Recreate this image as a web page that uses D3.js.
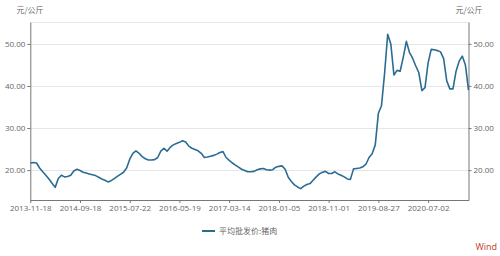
<!DOCTYPE html>
<html>
<head>
<meta charset="utf-8">
<script src="https://cdn.jsdelivr.net/npm/d3@7"></script>
<style>
  body { margin: 0; background: #fff; }
  svg { display: block; font-family: "Noto Sans CJK SC", "Open Sans", sans-serif; }
</style>
</head>
<body>
<svg id="canvas" width="500" height="256"></svg>
<script>
// tick labels on the category axis, one every 16 samples
const tickLabels = ["2013-11-18", "2014-09-18", "2015-07-22", "2016-05-19", "2017-03-14",
  "2018-01-05", "2018-11-01", "2019-08-27", "2020-07-02"];

// 平均批发价:猪肉 (元/公斤), evenly spaced samples
const porkPrice = [
  21.7, 21.8, 21.7, 20.5, 19.6, 18.8, 17.9, 16.9, 15.9, 18.0,
  18.8, 18.4, 18.5, 18.8, 19.8, 20.2, 19.9, 19.5, 19.3, 19.1,
  18.9, 18.7, 18.3, 17.9, 17.6, 17.2, 17.5, 18.0, 18.5, 19.0,
  19.5, 20.5, 22.6, 24.0, 24.6, 24.0, 23.2, 22.7, 22.4, 22.4,
  22.5, 23.0, 24.5, 25.2, 24.5, 25.4, 26.0, 26.3, 26.6, 27.0,
  26.7, 25.7, 25.2, 24.9, 24.6, 24.0, 23.0, 23.1, 23.3, 23.5,
  23.8, 24.2, 24.4, 23.0, 22.3, 21.7, 21.2, 20.7, 20.2, 19.9,
  19.6, 19.6, 19.7, 20.1, 20.3, 20.4, 20.1, 20.0, 20.1, 20.7,
  20.9, 21.0, 20.2, 18.3, 17.3, 16.5, 16.0, 15.6, 16.2, 16.6,
  16.8, 17.6, 18.4, 19.1, 19.5, 19.7, 19.2, 19.2, 19.6, 19.1,
  18.8, 18.4, 17.9, 17.8, 20.3, 20.4, 20.5, 20.8, 21.4, 23.0,
  23.9, 26.0, 33.5, 35.3, 43.0, 52.3, 50.0, 42.6, 43.7, 43.5,
  46.8, 50.6, 48.0, 46.6, 44.8, 43.2, 38.9, 39.6, 45.5, 48.7,
  48.6, 48.4, 48.1, 46.5, 41.2, 39.3, 39.3, 43.5, 45.9, 47.1,
  45.0, 39.0
];

const yTicks = [20, 30, 40, 50];
const unitLabel = "元/公斤";
const seriesName = "平均批发价:猪肉";

const lineColor = "#2b6c93";
const axisColor = "#777";
const textColor = "#666";

const canvas = d3.select("#canvas");

const plotLeft = 30.3, plotRight = 468.5, plotTop = 22, plotBottom = 200;
const tickStep = 16;

let x = d3.scaleLinear()
  .domain([0, porkPrice.length - 1])
  .range([plotLeft, plotRight]);

let y = d3.scaleLinear()
  .domain([12.9, 55.2])
  .range([plotBottom, plotTop]);

// grid lines
canvas.append("g")
  .selectAll("line")
  .data(yTicks.concat([55.2]))
  .enter()
  .append("line")
  .attr("x1", plotLeft)
  .attr("x2", plotRight)
  .attr("y1", d => Math.round(y(d)) + 0.5)
  .attr("y2", d => Math.round(y(d)) + 0.5)
  .attr("stroke", "#e6e6e6")
  .attr("stroke-width", 1);

const fmt = d => d3.format(".2f")(d);

const leftAxis = d3.axisLeft(y)
  .tickValues(yTicks)
  .tickFormat(fmt)
  .tickSize(3)
  .tickSizeOuter(0);

const rightAxis = d3.axisRight(y)
  .tickValues(yTicks)
  .tickFormat(fmt)
  .tickSize(3)
  .tickSizeOuter(0);

const xAxis = d3.axisBottom(x)
  .tickValues(tickLabels.map((t, i) => i * tickStep))
  .tickFormat((d, i) => tickLabels[i])
  .tickSize(3)
  .tickSizeOuter(0);

let styleAxis = g => {
  g.select(".domain").attr("stroke", axisColor);
  g.selectAll(".tick line").attr("stroke", axisColor);
  g.selectAll(".tick text")
    .attr("fill", textColor)
    .style("font-size", "8px")
    .style("font-family", "'Open Sans', sans-serif");
};

canvas.append("g")
  .attr("transform", `translate(${plotLeft}, 0)`)
  .call(leftAxis)
  .call(styleAxis)
  .call(g => g.selectAll(".tick text").attr("x", -5));

canvas.append("g")
  .attr("transform", `translate(${plotRight}, 0)`)
  .call(rightAxis)
  .call(styleAxis)
  .call(g => g.selectAll(".tick text").attr("x", 5));

canvas.append("g")
  .attr("transform", `translate(0, ${plotBottom})`)
  .call(xAxis)
  .call(styleAxis)
  .call(g => g.selectAll(".tick text").attr("y", 5));

// unit labels
canvas.append("text")
  .attr("x", 30)
  .attr("y", 13)
  .attr("text-anchor", "middle")
  .attr("fill", textColor)
  .style("font-size", "8px")
  .text(unitLabel);

canvas.append("text")
  .attr("x", 469)
  .attr("y", 13)
  .attr("text-anchor", "middle")
  .attr("fill", textColor)
  .style("font-size", "8px")
  .text(unitLabel);

// series line
const line = d3.line()
  .x((d, i) => x(i))
  .y(d => y(d));

canvas.append("path")
  .datum(porkPrice)
  .attr("d", line)
  .attr("fill", "none")
  .attr("stroke", lineColor)
  .attr("stroke-width", 1.6)
  .attr("stroke-linejoin", "round");

// legend
const legend = canvas.append("g").attr("transform", "translate(202, 231)");
legend.append("line")
  .attr("x1", 0)
  .attr("x2", 13)
  .attr("stroke", lineColor)
  .attr("stroke-width", 2);
legend.append("text")
  .attr("x", 17)
  .attr("y", 3)
  .attr("fill", textColor)
  .style("font-size", "8px")
  .text(seriesName);

canvas.append("text")
  .attr("x", 497)
  .attr("y", 250)
  .attr("text-anchor", "end")
  .attr("fill", "#c0392b")
  .style("font-size", "9px")
  .style("font-family", "'Open Sans', sans-serif")
  .text("Wind");
</script>
</body>
</html>
